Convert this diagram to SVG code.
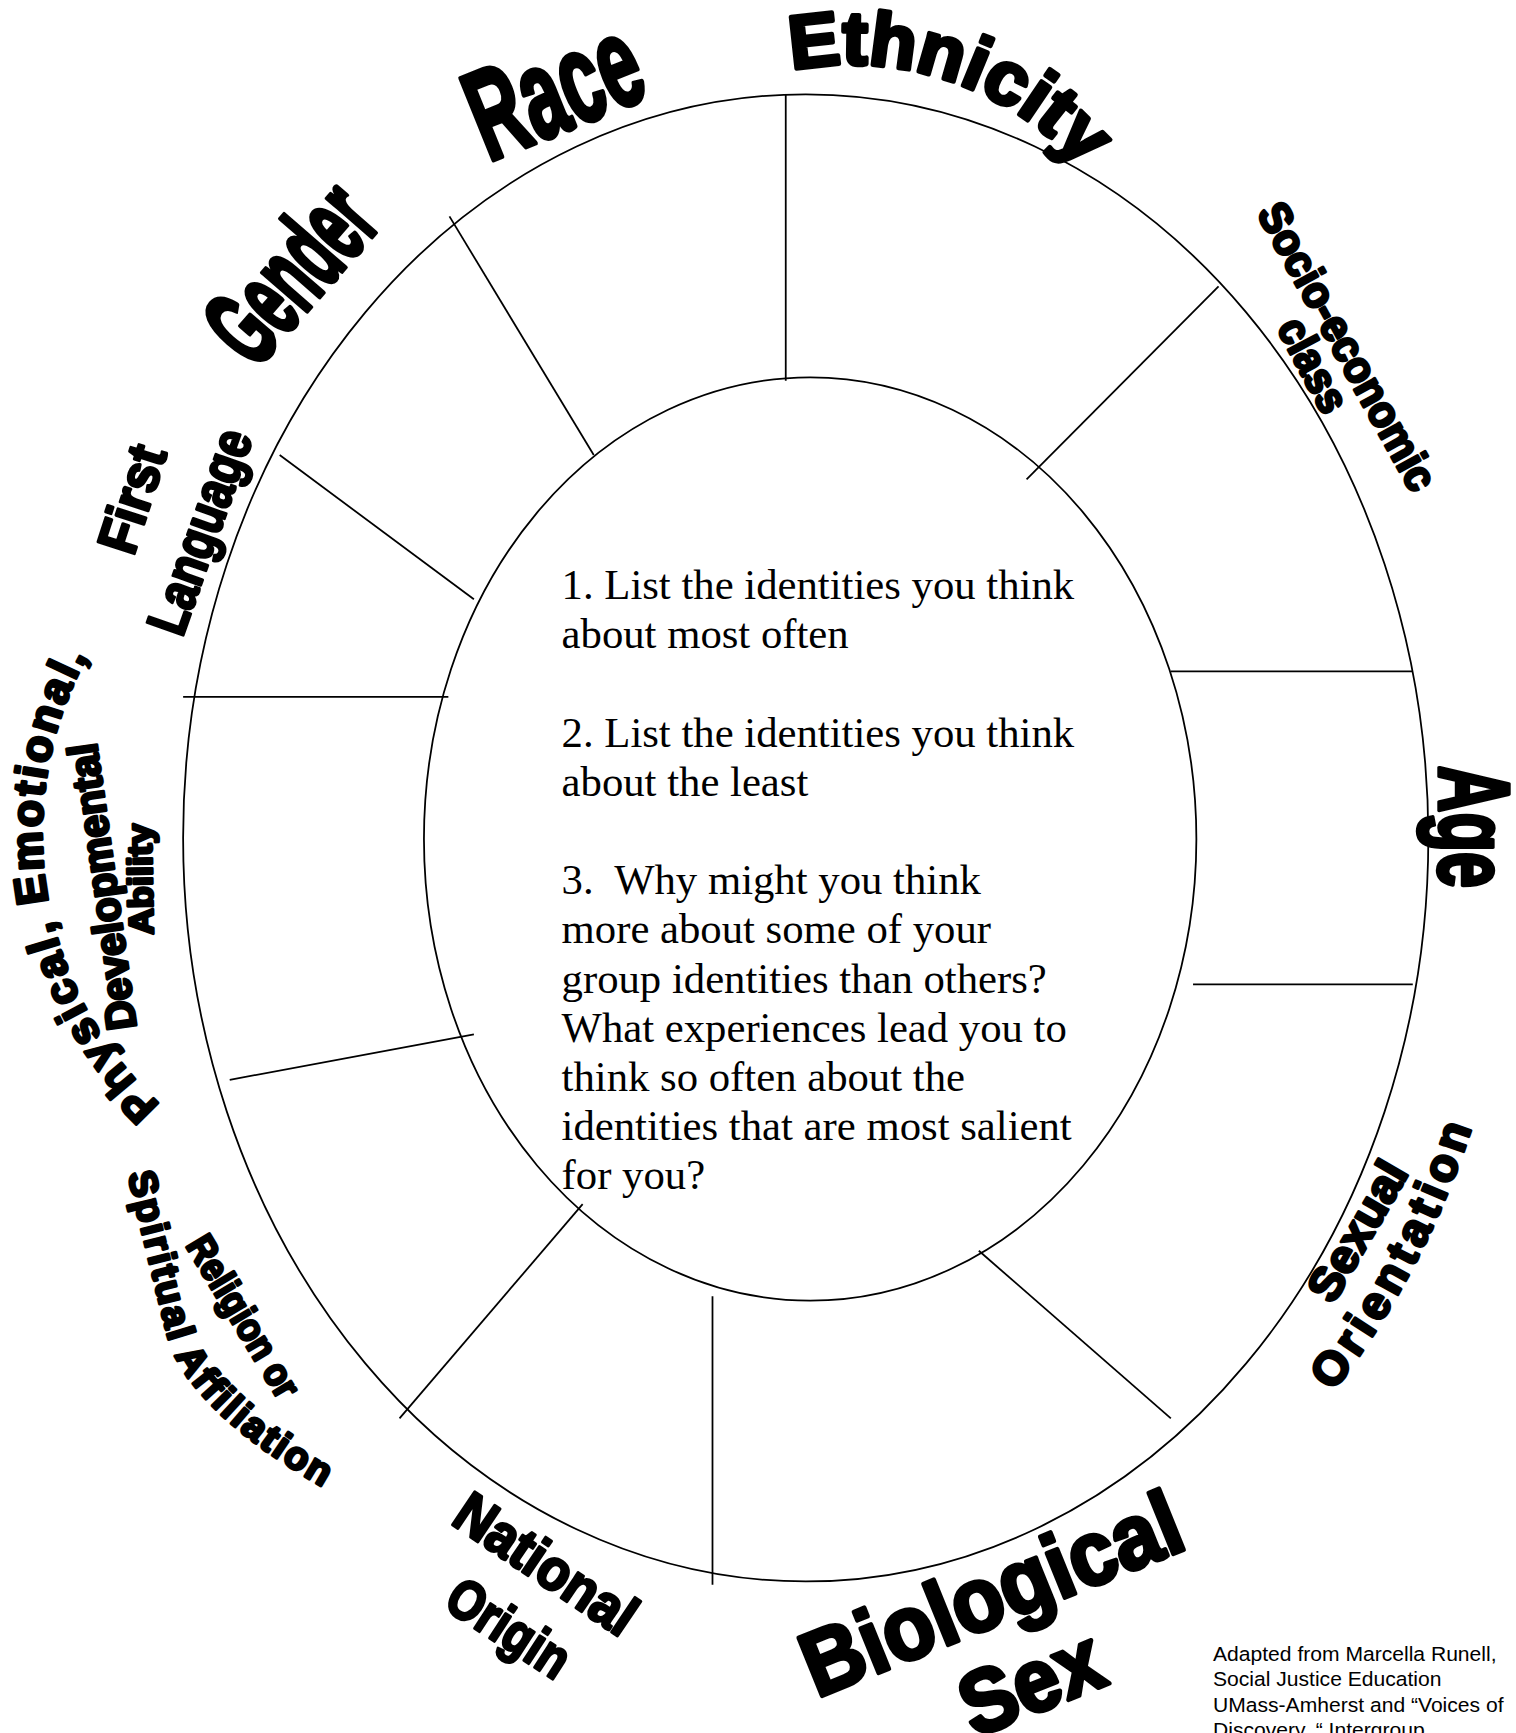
<svg xmlns="http://www.w3.org/2000/svg" width="1516" height="1733" viewBox="0 0 1516 1733">
<style>
.ln{stroke:#000;stroke-width:1.6;fill:none}
.q{font-family:'Liberation Serif','Times New Roman',serif;font-size:38.5px;fill:#000}
.ft{font-family:'Liberation Sans',Arial,sans-serif;font-size:19px;fill:#000}
.lb{font-family:'Liberation Sans',Arial,sans-serif;font-weight:bold;fill:#000;stroke:#000;stroke-linejoin:round;stroke-width:2.7}
.big{stroke-width:4}
.nw{font-family:'Liberation Sans Narrow','Liberation Sans',Arial,sans-serif;font-weight:bold;fill:#000;stroke:#000;stroke-linejoin:round;stroke-width:4.5}
</style>
<defs>
<path id="pEth" d="M 713.4,63.1 A 278.8 278.8 0 0 1 1028.1,241.5"/>
<path id="pOri" d="M 1201,1254 A 641 755 0 0 0 1357,891"/>
<path id="pSpi" d="M 115,1058 L 150,1200 Q 167.5,1271 300,1345 L 340,1360"/>
<path id="pPhy" d="M 144.2,995.3 A 334 334 0 0 1 157.3,495.1"/>
</defs>
<rect width="1516" height="1733" fill="#fff"/>
<g transform="scale(1.10981)">
<g id="wheel">
<ellipse class="ln" cx="726" cy="755" rx="561" ry="670"/>
<ellipse class="ln" cx="730" cy="756" rx="348" ry="416"/>
</g>
<g id="connectors">
<line class="ln" x1="708" y1="85" x2="708" y2="343"/>
<line class="ln" x1="405" y1="195" x2="535" y2="410"/>
<line class="ln" x1="1098" y1="258" x2="925" y2="432"/>
<line class="ln" x1="252" y1="410" x2="427" y2="540"/>
<line class="ln" x1="165" y1="628" x2="404" y2="628"/>
<line class="ln" x1="207" y1="973" x2="427" y2="932"/>
<line class="ln" x1="1055" y1="605" x2="1273" y2="605"/>
<line class="ln" x1="1075" y1="887" x2="1273" y2="887"/>
<line class="ln" x1="882" y1="1127" x2="1055" y2="1278"/>
<line class="ln" x1="642" y1="1168" x2="642" y2="1428"/>
<line class="ln" x1="525" y1="1085" x2="360" y2="1278"/>
</g>
<g id="prompt">
<text class="q">
<tspan x="506" y="540">1. List the identities you think</tspan>
<tspan x="506" y="584.3">about most often</tspan>
<tspan x="506" y="672.9">2. List the identities you think</tspan>
<tspan x="506" y="717.2">about the least</tspan>
<tspan x="506" y="805.8">3.&#160; Why might you think</tspan>
<tspan x="506" y="850.1">more about some of your</tspan>
<tspan x="506" y="894.4">group identities than others?</tspan>
<tspan x="506" y="938.7">What experiences lead you to</tspan>
<tspan x="506" y="983">think so often about the</tspan>
<tspan x="506" y="1027.3">identities that are most salient</tspan>
<tspan x="506" y="1071.6">for you?</tspan>
</text>
</g>
<g id="race"><text class="nw" font-size="115" transform="translate(440,146) rotate(-22)" textLength="159" lengthAdjust="spacingAndGlyphs">Race</text></g>
<g id="gender"><text class="nw" font-size="100" transform="translate(230,334) rotate(-49)" textLength="175" lengthAdjust="spacingAndGlyphs">Gender</text></g>
<g id="ethnicity"><text class="lb big" font-size="68"><textPath href="#pEth" textLength="289" lengthAdjust="spacingAndGlyphs">Ethnicity</textPath></text></g>
<g id="socio">
<text class="lb" font-size="40" transform="translate(1132,192) rotate(61)" textLength="290" lengthAdjust="spacingAndGlyphs">Socio-economic</text>
<text class="lb" font-size="40" transform="translate(1150,295) rotate(62)" textLength="91" lengthAdjust="spacingAndGlyphs">class</text>
</g>
<g id="age"><text class="lb big" font-size="90" transform="translate(1297,690) rotate(90)" textLength="110" lengthAdjust="spacingAndGlyphs">Age</text></g>
<g id="sexual-orientation">
<text class="lb" font-size="42" transform="translate(1201,1176) rotate(-60)" textLength="138" lengthAdjust="spacingAndGlyphs">Sexual</text>
<text class="lb" font-size="42"><textPath href="#pOri" textLength="270">Orientation</textPath></text>
</g>
<g id="biological-sex">
<text class="lb big" font-size="82" transform="translate(736,1530) rotate(-22)" textLength="362" lengthAdjust="spacingAndGlyphs">Biological</text>
<text class="lb big" font-size="80" transform="translate(878,1566) rotate(-22)" textLength="132" lengthAdjust="spacingAndGlyphs">Sex</text>
</g>
<g id="national-origin">
<text class="lb" font-size="52" transform="translate(405,1372) rotate(34)" textLength="186" lengthAdjust="spacingAndGlyphs">National</text>
<text class="lb" font-size="50" transform="translate(398,1448) rotate(33)" textLength="122" lengthAdjust="spacingAndGlyphs">Origin</text>
</g>
<g id="religion">
<text class="lb" font-size="35" transform="translate(167,1122) rotate(59)" textLength="164" lengthAdjust="spacingAndGlyphs">Religion or</text>
<text class="lb" font-size="35"><textPath href="#pSpi" textLength="350">Spiritual Affiliation</textPath></text>
</g>
<g id="ability">
<text class="lb" font-size="40"><textPath href="#pPhy" textLength="440">Physical, Emotional,</textPath></text>
<text class="lb" font-size="38" transform="translate(123,926) rotate(-98)" textLength="260" lengthAdjust="spacingAndGlyphs">Developmental</text>
<text class="lb" font-size="31" transform="translate(138,842) rotate(-91)" textLength="100" lengthAdjust="spacingAndGlyphs">Ability</text>
</g>
<g id="first-language">
<text class="lb" font-size="50" transform="translate(120,502) rotate(-72)" textLength="99" lengthAdjust="spacingAndGlyphs">First</text>
<text class="lb" font-size="50" transform="translate(164,575) rotate(-70.5)" textLength="192" lengthAdjust="spacingAndGlyphs">Language</text>
</g>
<g id="credit">
<text class="ft">
<tspan x="1093" y="1497">Adapted from Marcella Runell,</tspan>
<tspan x="1093" y="1519.5">Social Justice Education</tspan>
<tspan x="1093" y="1543">UMass-Amherst and “Voices of</tspan>
<tspan x="1093" y="1565">Discovery, “ Intergroup</tspan>
</text>
</g>
</g>
</svg>
